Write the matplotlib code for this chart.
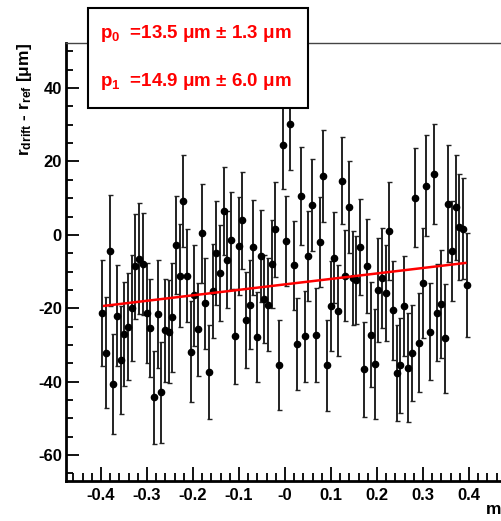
import matplotlib
matplotlib.use('Agg')
import matplotlib.pyplot as plt
from matplotlib.patches import Rectangle
from matplotlib.ticker import MultipleLocator

plt.rcParams['font.family'] = ['Liberation Sans', 'DejaVu Sans']
plt.rcParams['font.weight'] = 'bold'
plt.rcParams['mathtext.fontset'] = 'custom'
plt.rcParams['mathtext.rm'] = 'Liberation Sans:bold'
plt.rcParams['mathtext.bf'] = 'Liberation Sans:bold'
plt.rcParams['mathtext.default'] = 'bf'
plt.rcParams['axes.unicode_minus'] = False

# residuals vs position
x_pos = [-0.397 + 0.008 * i for i in range(100)]
y_res = [-21.3, -32.1, -4.3, -40.6, -22.0, -34.1, -27.0, -25.0, -20.0, -8.6,
         -6.5, -8.0, -21.3, -25.4, -44.3, -21.6, -42.9, -26.0, -26.4, -22.5,
         -2.7, -11.1, 9.2, -11.1, -31.9, -16.5, -25.8, 0.4, -18.6, -37.5,
         -15.3, -5.0, -10.4, 6.6, -6.8, -1.5, -27.7, -3.0, 4.0, -23.3,
         -19.0, -3.4, -27.9, -5.7, -17.5, -19.0, -8.0, 1.5, -35.5, 24.4,
         -1.6, 30.2, -8.3, -29.8, 10.6, -27.7, -5.8, 8.2, -27.2, -1.9,
         16.1, -35.6, -19.4, -6.2, -20.7, 14.8, -11.1, 7.6, -11.8, -12.3,
         -3.4, -36.7, -8.5, -27.2, -35.3, -15.1, -11.8, -15.9, 1.1, -20.5,
         -37.6, -35.6, -19.4, -36.2, -32.3, 10.1, -29.4, -13.1, 13.4, -26.4,
         16.6, -21.2, -18.8, -28.2, 8.5, -4.3, 7.5, 2.1, 1.7, -13.6]
y_err = [14.4, 15.1, 15.2, 13.7, 13.8, 14.6, 14.2, 14.7, 14.4, 14.3,
         15.1, 13.9, 13.5, 13.4, 12.6, 14.7, 13.8, 14.1, 14.1, 14.8,
         13.4, 14.0, 12.5, 12.7, 13.8, 13.7, 12.6, 13.4, 12.4, 12.8,
         12.9, 14.1, 13.2, 12.0, 13.2, 13.3, 13.0, 13.4, 13.2, 13.1,
         12.2, 13.0, 12.3, 12.5, 11.9, 12.7, 12.0, 12.9, 12.2, 11.9,
         12.3, 12.5, 12.1, 12.5, 13.3, 12.4, 12.2, 12.5, 12.8, 12.3,
         12.5, 12.5, 12.2, 12.4, 12.4, 11.9, 12.4, 12.5, 12.8, 12.1,
         13.1, 12.9, 12.9, 14.4, 15.0, 14.2, 13.7, 13.1, 13.4, 13.5,
         13.1, 12.9, 13.5, 14.8, 13.1, 13.5, 13.5, 14.9, 13.8, 13.3,
         13.6, 13.3, 14.8, 14.9, 16.0, 13.6, 14.4, 14.4, 13.7, 14.2]

# linear fit
fit_p0 = -13.5
fit_p1 = 14.9
fit_range = [-0.393, 0.392]
fit_labels = ['p$_0$  =13.5 \u03bcm \u00b1 1.3 \u03bcm',
              'p$_1$  =14.9 \u03bcm \u00b1 6.0 \u03bcm']

xtick_vals = [-0.4, -0.3, -0.2, -0.1, 0.0, 0.1, 0.2, 0.3, 0.4]
xtick_labels = ['-0.4', '-0.3', '-0.2', '-0.1', '-0', '0.1', '0.2', '0.3', '0.4']

fig = plt.figure(figsize=(5.02, 5.21), dpi=100)
ax = fig.add_axes([66 / 502, 1 - 481 / 521, 438 / 502, 438 / 521])

ax.errorbar(x_pos, y_res, yerr=y_err, fmt='o', color='black', ecolor='#222222',
            markersize=4.5, elinewidth=1.4, capsize=1.8, capthick=1.0)
fit_y = [fit_p0 + fit_p1 * v for v in fit_range]
ax.plot(fit_range, fit_y, color='red', lw=1.8, zorder=5)

ax.set_xlim(-0.476, 0.476)
ax.set_ylim(-67.1, 52.3)
ax.set_xticks(xtick_vals)
ax.set_xticklabels(xtick_labels)
ax.xaxis.set_minor_locator(MultipleLocator(0.02))
ax.set_yticks([-60, -40, -20, 0, 20, 40])
ax.yaxis.set_minor_locator(MultipleLocator(5))
ax.tick_params(which='both', direction='in', top=False, right=False, labelsize=12, width=1.3)
ax.tick_params(axis='x', which='major', length=10, pad=5)
ax.tick_params(axis='x', which='minor', length=5.5)
ax.tick_params(axis='y', which='major', length=9.5, pad=3)
ax.tick_params(axis='y', which='minor', length=5)
for lbl in ax.get_xticklabels() + ax.get_yticklabels():
    lbl.set_fontweight('bold')

ax.spines['left'].set_linewidth(2)
ax.spines['bottom'].set_linewidth(2)
ax.spines['top'].set_linewidth(1)
ax.spines['top'].set_color('#444444')
ax.spines['right'].set_visible(False)

fig.text(25 / 502, 1 - 43 / 521, 'r$_{drift}$ - r$_{ref}$ [\u03bcm]', rotation=90,
         ha='center', va='top', fontsize=12.5, fontweight='bold')
fig.text(501 / 502, 1 - 510 / 521, 'm', ha='right', va='center', fontsize=12.5,
         fontweight='bold')

box = Rectangle((88 / 502, 1 - 108 / 521), 220 / 502, 100 / 521, transform=fig.transFigure,
                facecolor='white', edgecolor='black', lw=1.5, zorder=10)
fig.add_artist(box)
fig.text(100 / 502, 1 - 33 / 521, fit_labels[0], color='red', fontsize=13.5,
         fontweight='bold', va='center', zorder=11)
fig.text(100 / 502, 1 - 81 / 521, fit_labels[1], color='red', fontsize=13.5,
         fontweight='bold', va='center', zorder=11)

fig.savefig('out.png', dpi=100)
